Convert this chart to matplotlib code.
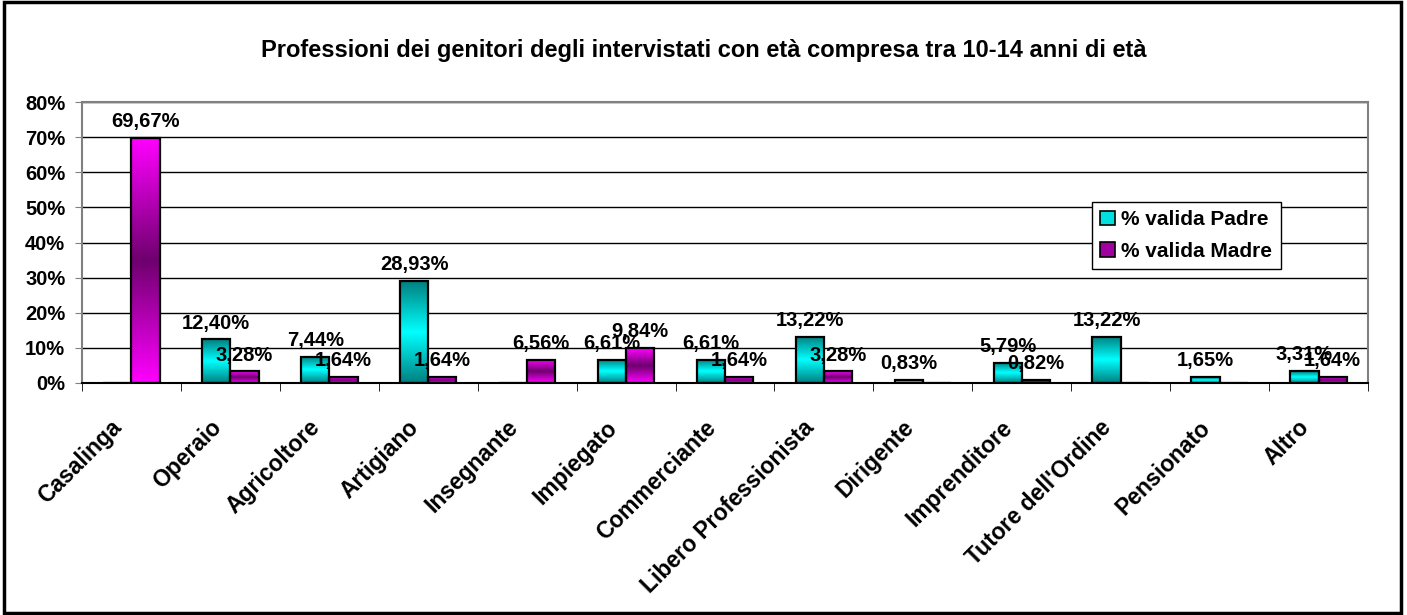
import numpy as np
import matplotlib
matplotlib.use("Agg")
import matplotlib.pyplot as plt
from matplotlib.patches import Rectangle, Patch
from matplotlib.transforms import ScaledTranslation

plt.rcParams['font.family'] = ['Liberation Sans', 'DejaVu Sans']
plt.rcParams['font.weight'] = 'bold'

categorie = ["Casalinga", "Operaio", "Agricoltore", "Artigiano", "Insegnante",
             "Impiegato", "Commerciante", "Libero Professionista", "Dirigente",
             "Imprenditore", "Tutore dell'Ordine", "Pensionato", "Altro"]
padre = [0, 12.40, 7.44, 28.93, 0, 6.61, 6.61, 13.22, 0.83, 5.79, 13.22, 1.65, 3.31]
madre = [69.67, 3.28, 1.64, 1.64, 6.56, 9.84, 1.64, 3.28, 0, 0.82, 0, 0, 1.64]
yticks = [0, 10, 20, 30, 40, 50, 60, 70, 80]
titolo = "Professioni dei genitori degli intervistati con età compresa tra 10-14 anni di età"


def gradient(ax, bar, c_end, c_mid):
    x, y = bar.get_x(), bar.get_y()
    w, h = bar.get_width(), bar.get_height()
    if h <= 0:
        return
    t = np.linspace(0, 1, 128)
    f = 1 - np.abs(2 * t - 1)
    c_end = np.array(c_end) / 255.0
    c_mid = np.array(c_mid) / 255.0
    img = c_end[None, :] * (1 - f[:, None]) + c_mid[None, :] * f[:, None]
    ax.imshow(img[:, None, :], extent=[x, x + w, y, y + h], aspect='auto',
              origin='lower', zorder=2, interpolation='bilinear')


def main():
    fig = plt.figure(figsize=(14.07, 6.15), dpi=100)
    ax = fig.add_axes([82 / 1407, 1 - 383 / 615, 1286 / 1407, 281 / 615])

    x = np.arange(len(categorie))
    w = 1 / 3.5
    bp = ax.bar(x - w / 2, padre, w, facecolor='none', edgecolor='black', lw=1.6, zorder=3)
    bm = ax.bar(x + w / 2, madre, w, facecolor='none', edgecolor='black', lw=1.6, zorder=3)
    for b in bp:
        gradient(ax, b, (0, 128, 128), (0, 255, 255))
    for b in bm:
        gradient(ax, b, (255, 0, 255), (110, 0, 110))

    for bars, vals in ((bp, padre), (bm, madre)):
        for b, v in zip(bars, vals):
            if v > 0:
                ax.annotate(f"{v:.2f}%".replace('.', ','),
                            (b.get_x() + b.get_width() / 2, v),
                            xytext=(0, 5), textcoords='offset points',
                            ha='center', va='bottom', fontsize=14.5, fontweight='bold')

    ax.set_xlim(-0.5, len(categorie) - 0.5)
    ax.set_ylim(0, 80)
    ax.set_yticks(yticks)
    ax.set_yticklabels([f"{v}%" for v in yticks], fontsize=14.5, fontweight='bold')
    ax.yaxis.grid(True, color='black', lw=1)
    ax.set_axisbelow(True)
    ax.tick_params(axis='y', length=5, color='#808080', pad=7)

    ax.set_xticks(x)
    ax.set_xticklabels(categorie, rotation=45, ha='right', va='top',
                       rotation_mode='anchor', fontsize=16.5, fontweight='bold')
    ax.tick_params(axis='x', which='major', length=0, pad=0)
    shift = ScaledTranslation(-0.21, -0.33, fig.dpi_scale_trans)
    for lab in ax.get_xticklabels():
        lab.set_transform(lab.get_transform() + shift)
    ax.set_xticks(np.arange(len(categorie) + 1) - 0.5, minor=True)
    ax.tick_params(axis='x', which='minor', length=6, color='black')

    for s in ('left', 'top', 'right'):
        ax.spines[s].set_color('#808080')
        ax.spines[s].set_linewidth(1.5)
    ax.spines['bottom'].set_color('black')
    ax.spines['bottom'].set_linewidth(1.5)

    handles = [Patch(facecolor='#00e0e0', edgecolor='black', lw=1.2, label='% valida Padre'),
               Patch(facecolor='#a000a0', edgecolor='black', lw=1.2, label='% valida Madre')]
    leg = ax.legend(handles=handles, loc='upper left',
                    bbox_to_anchor=(1092 / 1407, 1 - 202 / 615),
                    bbox_transform=fig.transFigure, fancybox=False, framealpha=1,
                    edgecolor='black', prop={'size': 15, 'weight': 'bold'},
                    handlelength=0.7, handleheight=0.7, handletextpad=0.3,
                    borderpad=0.4, labelspacing=0.6, borderaxespad=0)
    leg.get_frame().set_linewidth(1)

    fig.text(0.5, 1 - 50 / 615, titolo, ha='center', va='center',
             fontsize=17, fontweight='bold')

    fig.patches.append(Rectangle((0.003, 0.004), 0.993, 0.992, transform=fig.transFigure,
                                 fill=False, edgecolor='black', lw=2.5))

    fig.savefig("out.png", dpi=100)


if __name__ == "__main__":
    main()
